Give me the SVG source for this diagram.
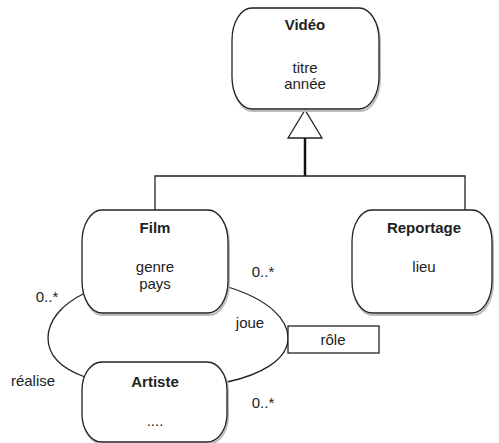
<svg xmlns="http://www.w3.org/2000/svg" width="499" height="443" viewBox="0 0 499 443">
<defs>
<style>
.box{fill:#fff;stroke:#222;stroke-width:1.3}
.sh{fill:none;stroke:#bbb;stroke-width:2}
.t{font-family:"Liberation Sans",Arial,sans-serif;font-size:15px;fill:#222;text-anchor:middle}
.b{font-weight:bold}
.ln{fill:none;stroke:#222;stroke-width:1.3}
</style>
</defs>
<g id="connectors">
<polygon points="305,110 288,138 322,138" fill="#fff" stroke="#222" stroke-width="1.3"/>
<line x1="305" y1="138" x2="305" y2="176" stroke="#111" stroke-width="2.5"/>
<polyline class="ln" points="155,210 155,176 465,176 465,210"/>
<path class="ln" d="M228,287 C270,300 288,320 288,338 C288,360 260,375 227,382"/>
<path class="ln" d="M85,293 C60,305 48,322 48,338 C48,355 60,368 85,377"/>
<text class="t" x="263" y="277">0..*</text>
<text class="t" x="263" y="408">0..*</text>
<text class="t" x="47" y="302">0..*</text>
<text class="t" x="250" y="328">joue</text>
<text class="t" x="33" y="386">réalise</text>
</g>
<g id="video">
<rect class="sh" x="233" y="10" width="147" height="101" rx="20" ry="32"/>
<rect class="box" x="232" y="8" width="147" height="101" rx="20" ry="32"/>
<text class="t b" x="305" y="30">Vidéo</text>
<text class="t" x="305" y="73">titre</text>
<text class="t" x="305" y="89">année</text>
</g>
<g id="film">
<rect class="sh" x="83" y="212" width="146" height="103" rx="20" ry="32"/>
<rect class="box" x="82" y="210" width="146" height="103" rx="20" ry="32"/>
<text class="t b" x="155" y="233">Film</text>
<text class="t" x="155" y="272">genre</text>
<text class="t" x="155" y="289">pays</text>
</g>
<g id="reportage">
<rect class="sh" x="353" y="212" width="140" height="103" rx="20" ry="32"/>
<rect class="box" x="352" y="210" width="140" height="103" rx="20" ry="32"/>
<text class="t b" x="424" y="233">Reportage</text>
<text class="t" x="424" y="272">lieu</text>
</g>
<g id="artiste">
<rect class="sh" x="83" y="364" width="145" height="80" rx="20" ry="28"/>
<rect class="box" x="82" y="362" width="145" height="80" rx="20" ry="28"/>
<text class="t b" x="155" y="387">Artiste</text>
<text class="t" x="155" y="426">....</text>
</g>
<g id="role">
<rect class="box" x="288" y="326" width="91" height="27"/>
<text class="t" x="333" y="345">rôle</text>
</g>
</svg>
